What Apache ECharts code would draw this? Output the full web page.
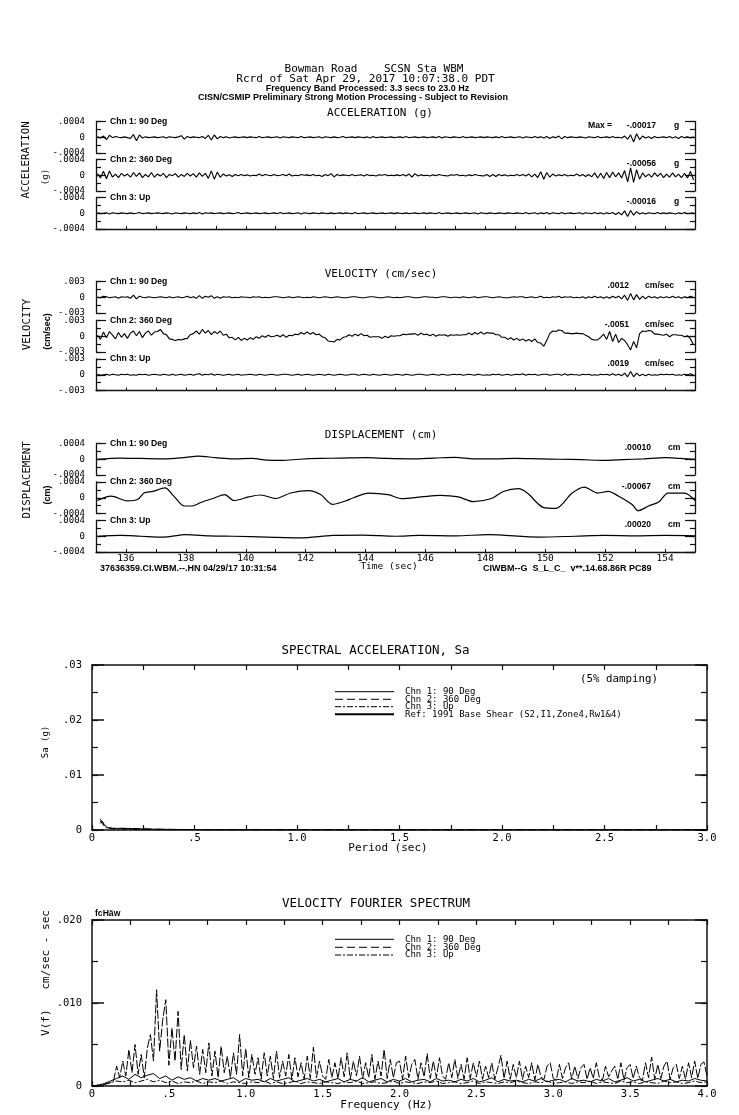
<!DOCTYPE html>
<html><head><meta charset="utf-8">
<script src="https://cdn.jsdelivr.net/npm/echarts/dist/echarts.min.js"></script>
<style>html,body{margin:0;padding:0;background:#fff}#c{width:739px;height:1115px}</style>
</head><body><div id="c"></div>
<script>
// ---------- DATA ----------
// time traces: start 135.05 s, step 0.1 s
const T0 = 135.05, DT = 0.1;
// acceleration, units of 1e-5 g
const acc1 = [1,-2,3,-6,5,-1,2,0,-1,1, -1,-3,7,-9,6,-2,1,-1,0,1, -1,0,1,-2,1,0,-1,1,4,-5, 2,-1,1,0,-1,2,-3,5,-7,6,
 -4,2,-1,1,-2,0,1,-1,0,1, -1,1,0,-1,2,-1,0,1,-1,0, 1,-2,1,0,-1,1,0,-1,2,-1, 0,1,-1,0,1,-2,1,0,-1,1,
 -1,0,2,-1,0,1,-1,1,0,-1, 1,-2,2,-1,0,1,-1,0,1,-1, 0,1,-1,2,-1,0,1,-1,0,1, -1,0,1,-1,2,-2,1,0,-1,1,
 0,-1,2,-1,0,1,-1,0,1,-1, 1,0,-1,1,-1,2,-1,0,1,-1, 0,1,-2,1,0,-1,2,-1,1,-2, 2,-3,1,-1,3,-4,2,-1,1,0,
 -1,1,0,-2,1,0,-1,2,-1,0, 1,-1,2,-1,0,-2,3,-5,6,-12, 9,-6,3,-2,1,-3,2,-1,0,1, -1,2,-2,1,-3,2,-1,1,-2,1];
const acc2 = [4,-7,10,-9,11,-5,3,-6,5,-2, 3,-5,7,-3,6,-6,2,-4,7,-5, 3,-2,5,-6,2,-1,4,-5,2,-3, 5,-2,4,-5,6,-3,5,-8,11,-10,
 8,-5,3,-2,1,-3,2,-1,2,-1, 1,-2,0,-1,3,-1,2,0,-1,2, -1,0,2,-1,3,-2,0,-1,2,0, 1,-1,2,-1,0,-3,2,-1,4,-4,
 2,-1,1,0,-1,2,-1,0,1,-2, 2,-1,0,-2,1,0,2,-1,0,-1, 1,-1,2,-2,3,-5,4,-2,1,-1, 0,-2,1,-1,2,0,-1,-2,1,0,
 2,-1,0,-2,1,-1,2,0,-1,-2, 2,-3,2,-3,2,-1,1,-2,0,-1, 2,-1,2,-2,3,-4,3,-6,9,-10, 7,-5,3,-2,1,-1,2,-2,0,-1,
 3,-2,2,-3,2,-4,6,-7,5,-8, 7,-6,8,-4,6,-7,12,-17,19,-18, 14,-10,6,-4,3,-5,6,-3,5,-6, 3,-5,6,-4,3,-6,5,-7,10,-12];
const acc3 = [1,-1,0,1,-2,1,0,-1,1,0, -1,1,-1,0,2,-1,0,1,-1,0, 1,0,-1,1,0,-2,1,0,-1,1, 0,-1,1,-1,2,-2,1,0,1,-1,
 0,1,-1,0,1,-1,0,2,-1,0, 1,-1,0,1,-1,0,1,-1,0,1, -1,2,-1,0,1,-1,0,1,-2,1, 0,-1,1,0,-1,1,0,-1,1,-1,
 0,1,-1,1,0,-1,2,-1,0,1, -1,0,1,-1,0,1,-1,0,1,-1, 1,0,-1,1,-1,0,1,-1,0,1, -1,1,0,-1,2,-1,0,1,-1,0,
 1,-1,0,1,-1,0,1,-2,1,0, -1,1,0,-1,1,0,-1,1,0,-1, 1,0,-1,2,-1,0,1,-2,1,-1, 2,-2,1,0,-1,2,-1,0,1,-1,
 0,1,-2,1,0,-1,2,-1,1,-2, 1,-1,2,-3,2,-4,6,-8,7,-5, 4,-2,1,-2,1,0,-1,2,-1,1, -1,1,0,-2,1,-1,2,-1,0,1];
// velocity, units of 1e-4 cm/sec
const vel1 = [0,-1,2,1,-1,0,1,-2,1,0, 1,-2,4,-3,2,0,-1,1,0,-1, 0,1,0,-1,1,-1,0,1,-1,0, 2,-1,1,-2,3,-2,2,0,3,-2,
 1,-2,1,0,1,-1,0,-1,1,0, 0,-1,1,0,1,-1,0,-1,0,1, 1,0,-1,0,1,-1,0,1,0,-1, 0,-1,1,0,-1,0,1,0,-1,0,
 1,0,-1,-1,0,1,1,0,-1,-1, 0,1,1,0,-1,-1,0,1,0,-1, 0,-1,0,1,1,0,-1,-1,0,1, 1,0,0,-1,0,1,1,0,-1,0,
 0,-1,1,0,-1,0,1,-1,0,1, 1,0,-1,0,1,0,-1,-1,0,1, 0,1,1,-1,0,1,-1,0,2,-1, 0,-1,1,0,2,-1,1,0,1,-1,
 0,-1,1,-2,1,-1,2,-1,1,-2, 1,-2,2,-1,2,-3,4,-6,7,-5, 5,-4,2,-3,2,-1,1,-2,1,-1, 1,-1,2,-1,1,-2,1,-1,2,-1];
const vel2 = [2,-6,8,-3,9,2,-5,7,-2,5, -4,6,10,1,9,-3,6,10,2,8, 9,13,5,3,-5,-6,-8,-6,-7,-5, -4,3,5,10,4,13,6,11,3,9,
 5,10,2,4,-3,-2,-7,-2,-8,-4, -7,-3,-6,-1,-4,1,-2,2,-1,0, 2,-1,3,-2,2,1,4,3,7,4, 8,4,7,3,4,-1,-3,-9,-10,-11,
 -6,-7,-2,-1,3,0,4,1,5,1, 2,-2,-1,-1,-1,-4,0,-3,1,0, 1,1,4,3,4,4,5,2,6,3, 4,1,4,0,3,2,3,0,3,2,
 3,2,3,3,6,3,7,4,8,4, 7,6,6,3,3,-2,-2,-6,-3,-7, -4,-8,-5,-9,-6,-10,-5,-12,-13,-19, -8,5,10,9,12,11,6,6,5,5,
 6,5,5,2,-1,-6,-7,-7,-2,4, -6,9,-10,4,-12,-4,-8,-16,-26,-10, -22,5,10,9,11,10,4,4,3,2, 4,-1,3,3,2,2,-1,1,-5,-16];
const vel3 = [1,-1,0,1,-1,1,0,-1,1,0, 1,-1,0,-1,1,0,1,-1,0,1, 0,-1,1,0,-1,1,-1,0,1,-1, 0,1,-1,1,2,-1,1,0,2,-1,
 1,0,-1,0,1,-1,0,1,-1,0, 0,1,0,-1,1,0,-1,0,1,0, -1,0,1,1,0,-1,0,1,-1,0, 1,0,-1,0,1,0,-1,1,0,-1,
 0,1,0,-1,0,1,1,-1,0,1, 0,-1,1,0,-1,0,1,0,-1,0, 1,0,-1,1,0,-1,0,1,1,0, -1,0,1,0,-1,1,0,-1,0,1,
 0,1,-1,0,1,0,-1,1,0,-1, 0,-1,1,0,1,-1,0,1,-1,0, 1,0,2,-1,1,0,1,-1,0,1, 1,-1,0,1,1,-1,2,-1,1,0,
 0,-1,1,0,1,-1,0,-1,1,0, 1,-1,2,-1,1,-2,3,-4,6,-4, 3,-2,1,-2,1,-1,0,-1,1,0, 1,0,1,-1,0,-1,1,0,2,-1];
// displacement, units of 1e-5 cm, read at irregular times
const disp1T = [135.05,135.8,136.5,137.3,138.0,138.4,139.0,139.6,140.2,140.7,141.2,141.8,142.5,143.2,144.0,144.7,145.5,146.3,147.0,147.6,148.3,149.0,149.8,150.5,151.2,152.0,152.6,153.3,154.0,154.5,155.0];
const disp1V = [0,3,2,1,5,8,4,1,2,-2,-3,0,2,3,4,2,1,3,5,1,1,2,1,0,-1,-3,-1,1,4,2,0];
const disp2T = [135.05,135.5,136.05,136.4,136.6,136.9,137.3,137.6,137.95,138.2,138.5,138.9,139.3,139.6,140.1,140.5,141.0,141.5,142.1,142.5,142.9,143.3,143.6,144.1,144.75,145.2,145.85,146.5,147.1,147.6,148.2,148.6,149.1,149.4,149.95,150.35,150.9,151.3,151.75,152.1,152.45,152.9,153.1,153.45,153.8,154.1,154.65,155.0];
const disp2V = [-7,4,-8,-4,12,16,25,4,-21,-21,-12,-2,8,-7,2,7,-2,12,18,8,-17,-9,0,12,8,-2,2,6,2,-10,-2,16,23,12,-25,-27,12,27,12,16,4,-17,-33,-21,-10,12,12,-7];
const disp3T = [135.05,135.8,136.5,137.25,138.0,138.8,139.6,140.7,141.8,142.9,143.9,145.0,145.8,147.0,148.1,149.8,151.0,152.0,153.0,154.0,155.0];
const disp3V = [0,2,0,-2,4,1,0,-2,-4,2,3,0,2,1,4,-2,0,2,1,2,1];
const peakLabels = [['-.00017','-.00056','-.00016'],['.0012','-.0051','.0019'],['.00010','-.00067','.00020']];
const chnNames = ['Chn 1: 90 Deg','Chn 2: 360 Deg','Chn 3: Up'];

// spectral acceleration (g) vs period (sec)
const saPeriod = [0.04,0.05,0.06,0.07,0.08,0.1,0.12,0.15,0.2,0.25,0.3,0.4,0.5,0.7,1.0,1.5,2.0,2.5,3.0];
const sa1 = [0.0012,0.0016,0.0010,0.0006,0.0004,0.0003,0.0003,0.0003,0.00025,0.0002,0.00015,0.0001,0.00007,0.00005,0.00003,0.00002,0.00002,0.00001,0.00001];
const sa2 = [0.0020,0.0014,0.0008,0.0005,0.0004,0.0003,0.0003,0.0003,0.00025,0.0002,0.00015,0.0001,0.00008,0.00006,0.00005,0.00004,0.00004,0.00003,0.00003];
const sa3 = [0.0016,0.0012,0.0007,0.0004,0.0003,0.0002,0.0002,0.00015,0.0001,0.0001,0.00008,0.00006,0.00005,0.00003,0.00002,0.00001,0.00001,0.00001,0.00001];

// velocity Fourier spectrum, units of 1e-4 cm/sec-sec
const fs2Step = 0.02;
const fs2 = [0,0,1,1,2,3,4,6,24,10, 30,12,44,16,50,14,38,10,46,62, 30,116,42,80,104,25,70,30,90,20, 62,18,55,22,48,14,44,16,52,12,
 42,10,48,16,36,10,40,14,62,12, 45,10,38,14,34,8,40,12,36,9, 42,10,30,12,38,8,34,11,28,8, 36,9,47,10,30,12,8,32,10,28,
 9,34,11,40,8,30,12,36,9,28, 10,38,8,30,12,44,9,32,10,28, 30,8,36,10,26,32,8,28,11,39, 9,30,10,34,12,8,28,10,32,9,
 26,8,34,9,28,11,30,8,24,10, 28,8,22,37,9,30,8,26,10,30, 8,24,10,28,7,26,11,8,24,28, 9,7,26,9,22,28,8,24,9,22,
 26,8,22,9,28,10,7,24,11,18, 24,8,28,7,22,26,9,24,10,7, 28,10,35,8,26,9,24,30,8,22, 26,9,24,8,28,10,30,9,26,29, 12];
const fs13Step = 0.04;
const fs1 = [0,1,3,6,9,12,8,14,10,13, 15,9,12,7,11,8,10,6,9,7, 9,6,8,10,5,9,7,8,5,9, 6,8,10,5,7,9,6,8,5,7,
 9,5,8,6,10,5,7,9,5,8, 6,9,5,7,8,5,9,6,7,5, 8,6,9,5,7,10,5,8,6,7, 5,8,6,9,5,7,8,5,9,6,
 7,5,8,6,9,5,7,10,6,8, 5,7,9,6,8,5,7,6,9,7, 6];
const fs3 = [0,1,2,4,6,5,7,4,6,8, 5,7,4,6,3,5,4,6,3,5, 4,6,3,5,4,3,5,4,6,3, 5,3,4,6,3,5,4,3,5,4,
 3,5,4,6,3,4,5,3,4,6, 3,5,4,3,5,4,6,3,4,5, 3,4,6,3,5,4,3,5,4,6, 4,3,5,4,6,3,4,5,3,5,
 4,6,3,5,4,3,6,4,5,3, 5,4,3,6,4,5,3,4,6,4, 5];

// ---------- BUILD ----------
const MONO = '"DejaVu Sans Mono","Liberation Mono",monospace';
const SANS = '"Liberation Sans",Arial,sans-serif';
const INK = '#000', AX = '#111';
const ts = vals => vals.map((v,i)=>[+(T0+i*DT).toFixed(2), v]);
const ps = (t,v) => t.map((x,i)=>[x, v[i]]);
const fsSer = (vals, step) => vals.map((v,i)=>[+(i*step).toFixed(2), v]);

const panels = [
  {tops:[121.5,159.5,197.5], half:40, step:20, labTop:'.0004', labBot:'-.0004', data:[ts(acc1),ts(acc2),ts(acc3)], unit:'g', valRight:656, unitLeft:674, lw:1.1, smooth:false},
  {tops:[281.5,320.5,359], half:30, step:15, labTop:'.003', labBot:'-.003', data:[ts(vel1),ts(vel2),ts(vel3)], unit:'cm/sec', valRight:629, unitLeft:645, lw:1.1, smooth:false},
  {tops:[443.5,482,520.5], half:40, step:20, labTop:'.0004', labBot:'-.0004', data:[ps(disp1T,disp1V),ps(disp2T,disp2V),ps(disp3T,disp3V)], unit:'cm', valRight:651, unitLeft:668, lw:1.2, smooth:0.3}
];
const grid=[], xAxis=[], yAxis=[], series=[], graphic=[];
const txt = (text,x,y,font,align,rot) => graphic.push({type:'text', x, y, rotation:rot||0, silent:true,
  style:{text, x:0, y:0, font, fill:INK, textAlign:align||'center', textVerticalAlign:'middle', align:align||'center', verticalAlign:'middle'}});
const hline = (x1,x2,y,dash,w) => graphic.push({type:'line', silent:true, shape:{x1,y1:y,x2,y2:y}, style:{stroke:INK, lineWidth:w||1, lineDash:dash||null}});

const lineSt = {color:AX, width:1.3};
const timeFmt = v => { const r=Math.round(v); return (r%2===0 && r>135 && r<155) ? String(r) : ''; };
const SMALL = 'bold 8.6px '+SANS;

panels.forEach((p,pi)=>{
  p.tops.forEach((top,ci)=>{
    const g = grid.length;
    grid.push({left:96, right:44, top, height:31.5, outerBoundsMode:'none', containLabel:false});
    xAxis.push({gridIndex:g, type:'value', min:135, max:155, interval:1, show:ci===2,
      axisLine:{show:true, onZero:false, lineStyle:lineSt},
      axisTick:{show:true, inside:true, length:3, lineStyle:{color:AX,width:1}},
      axisLabel:{show:pi===2, margin:2, color:INK, fontFamily:MONO, fontSize:9.5, formatter:timeFmt, showMinLabel:true, showMaxLabel:true},
      splitLine:{show:false}});
    const yi = yAxis.length;
    const base = {gridIndex:g, type:'value', min:-p.half, max:p.half, splitLine:{show:false}};
    const fmt = v => v===p.half ? p.labTop : (v===-p.half ? p.labBot : (v===0 ? '0' : ''));
    ['left','right'].forEach(pos=>{
      yAxis.push(Object.assign({}, base, {position:pos, interval:p.step,
        axisLine:{show:true, onZero:false, lineStyle:lineSt},
        axisTick:{show:true, inside:true, length:5, lineStyle:{color:AX,width:1.2}},
        axisLabel:{show:pos==='left', margin:11, color:INK, fontFamily:MONO, fontSize:9, formatter:fmt, showMinLabel:true, showMaxLabel:true}}));
      yAxis.push(Object.assign({}, base, {position:pos, interval:p.half,
        axisLine:{show:false, onZero:false},
        axisTick:{show:true, inside:true, length:10, lineStyle:{color:AX,width:1.2}},
        axisLabel:{show:false}}));
    });
    series.push({type:'line', xAxisIndex:g, yAxisIndex:yi, data:p.data[ci], showSymbol:false, symbol:'none',
      smooth:p.smooth, clip:false, animation:false, lineStyle:{color:INK, width:p.lw}});
    txt(chnNames[ci], 110, top, SMALL, 'left');
    if (pi===0 && ci===0) txt('Max =', 588, top+4, SMALL, 'left');
    txt(peakLabels[pi][ci], p.valRight, top+4.5, SMALL, 'right');
    txt(p.unit, p.unitLeft, top+4.5, SMALL, 'left');
  });
});

// spectra grids
const specX = v => { const r=Math.round(v*100); if (r%50!==0) return ''; if (r===0) return '0'; if (r===50) return '.5'; return (r/100).toFixed(1); };
function specGrid(top, height, xmax, ymax, yStep, yLong, yFmt){
  const g = grid.length;
  grid.push({left:92, right:32, top, height, outerBoundsMode:'none', containLabel:false});
  const xi = xAxis.length;
  ['bottom','top'].forEach(pos=>{
    xAxis.push({gridIndex:g, type:'value', position:pos, min:0, max:xmax, interval:0.25,
      axisLine:{show:true, onZero:false, lineStyle:{color:AX,width:1.5}},
      axisTick:{show:true, inside:true, length:5, lineStyle:{color:AX,width:1.2}},
      axisLabel:{show:pos==='bottom', margin:3, color:INK, fontFamily:MONO, fontSize:10.5, formatter:specX, showMinLabel:true, showMaxLabel:true},
      splitLine:{show:false}});
  });
  const yi = yAxis.length;
  ['left','right'].forEach(pos=>{
    yAxis.push({gridIndex:g, type:'value', position:pos, min:0, max:ymax, interval:yStep,
      axisLine:{show:true, onZero:false, lineStyle:{color:AX,width:1.5}},
      axisTick:{show:true, inside:true, length:6, lineStyle:{color:AX,width:1.2}},
      axisLabel:{show:pos==='left', margin:10, color:INK, fontFamily:MONO, fontSize:10.5, formatter:yFmt, showMinLabel:true, showMaxLabel:true},
      splitLine:{show:false}});
    yAxis.push({gridIndex:g, type:'value', position:pos, min:0, max:ymax, interval:yLong,
      axisLine:{show:false, onZero:false},
      axisTick:{show:true, inside:true, length:12, lineStyle:{color:AX,width:1.5}},
      axisLabel:{show:false}, splitLine:{show:false}});
  });
  return {xi, yi};
}
const DASH2 = [8,4], DASH3 = [6,2,2,2];
const saAx = specGrid(665, 165, 3, 0.03, 0.005, 0.01, v => { const r=Math.round(v*1000); if (r===0) return '0'; return r%10===0 ? '.0'+(r/10) : ''; });
[[sa1,'solid'],[sa2,DASH2],[sa3,DASH3]].forEach(([d,t])=>{
  series.push({type:'line', xAxisIndex:saAx.xi, yAxisIndex:saAx.yi, data:ps(saPeriod,d), showSymbol:false, symbol:'none',
    animation:false, lineStyle:{color:INK, width:1, type:t}});
});
const fsAx = specGrid(920, 166, 4, 200, 50, 100, v => v===0 ? '0' : (v===100 ? '.010' : (v===200 ? '.020' : '')));
[[fsSer(fs1,fs13Step),'solid'],[fsSer(fs2,fs2Step),[9,2]],[fsSer(fs3,fs13Step),DASH3]].forEach(([d,t])=>{
  series.push({type:'line', xAxisIndex:fsAx.xi, yAxisIndex:fsAx.yi, data:d, showSymbol:false, symbol:'none',
    animation:false, lineStyle:{color:INK, width:1, type:t}});
});

// header & titles
txt('Bowman Road    SCSN Sta WBM', 374, 69.5, '11px '+MONO);
txt('Rcrd of Sat Apr 29, 2017 10:07:38.0 PDT', 365.5, 79, '11px '+MONO);
txt('Frequency Band Processed: 3.3 secs to 23.0 Hz', 367.5, 89, 'bold 9px '+SANS);
txt('CISN/CSMIP Preliminary Strong Motion Processing - Subject to Revision', 353, 98, 'bold 9px '+SANS);
txt('ACCELERATION (g)', 380, 113, '11px '+MONO);
txt('VELOCITY (cm/sec)', 381, 274, '11px '+MONO);
txt('DISPLACEMENT (cm)', 381, 435.5, '11px '+MONO);
const R = Math.PI/2;
txt('ACCELERATION', 26, 160, '10.7px '+MONO, 'center', R);
txt('(g)', 46, 177, '9px '+MONO, 'center', R);
txt('VELOCITY', 27, 324.5, '10.7px '+MONO, 'center', R);
txt('(cm/sec)', 48, 331.5, 'bold 9px '+SANS, 'center', R);
txt('DISPLACEMENT', 27, 480, '10.7px '+MONO, 'center', R);
txt('(cm)', 48, 495, 'bold 9px '+SANS, 'center', R);
txt('37636359.CI.WBM.--.HN 04/29/17 10:31:54', 100, 568.5, 'bold 9px '+SANS, 'left');
txt('Time (sec)', 389, 566.5, '9.5px '+MONO);
txt('CIWBM--G  S_L_C_  v**.14.68.86R PC89', 483, 569, 'bold 9px '+SANS, 'left');

txt('SPECTRAL ACCELERATION, Sa', 375.5, 651, '12.5px '+MONO);
txt('(5% damping)', 619, 679, '10.8px '+MONO);
txt('Sa (g)', 46, 742, '9px '+MONO, 'center', R);
txt('Period (sec)', 388, 848, '11px '+MONO);
const saLeg = [['Chn 1: 90 Deg',null,1,691.7],['Chn 2: 360 Deg',DASH2,1,699.3],['Chn 3: Up',DASH3,1,706.7],['Ref: 1991 Base Shear (S2,I1,Zone4,Rw1&4)',null,2,714.3]];
saLeg.forEach(([t,d,w,y])=>{ hline(335,394,y,d,w); txt(t,405,y,'9px '+MONO,'left'); });

txt('VELOCITY FOURIER SPECTRUM', 376, 903.3, '12.5px '+MONO);
txt('fcHäw', 95, 914, 'bold 8.6px '+SANS, 'left');
txt('V(f)   cm/sec - sec', 46, 973, '11px '+MONO, 'center', R);
txt('Frequency (Hz)', 386.5, 1105, '11px '+MONO);
const fsLeg = [['Chn 1: 90 Deg',null,939.3],['Chn 2: 360 Deg',DASH2,947.3],['Chn 3: Up',DASH3,955]];
fsLeg.forEach(([t,d,y])=>{ hline(335,394,y,d,1); txt(t,405,y,'9px '+MONO,'left'); });

const chart = echarts.init(document.getElementById('c'));
chart.setOption({backgroundColor:'#fff', animation:false, grid, xAxis, yAxis, series, graphic});
</script></body></html>
